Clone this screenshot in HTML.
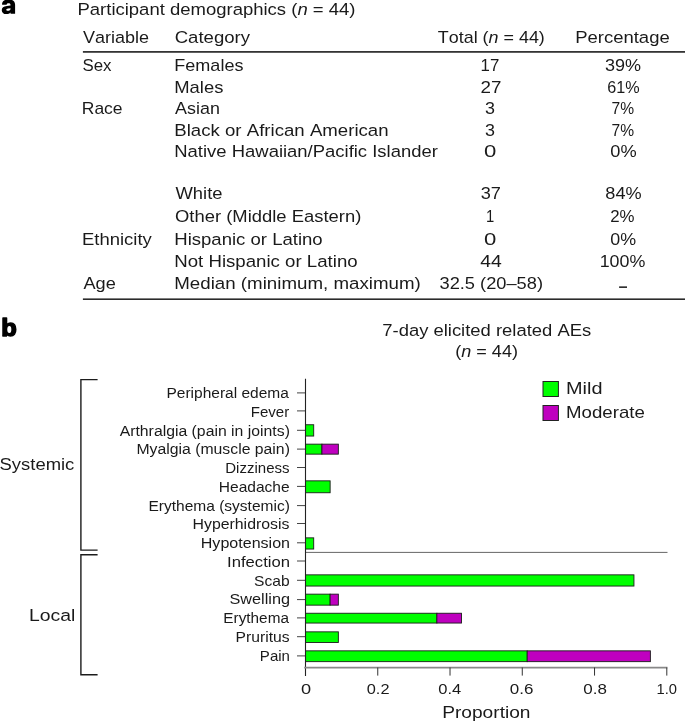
<!DOCTYPE html>
<html><head><meta charset="utf-8"><title>Figure</title>
<style>
html,body{margin:0;padding:0;background:#fff;}
svg{display:block;}
text{font-family:"Liberation Sans",sans-serif;fill:#1a1a1a;font-kerning:none;white-space:pre;}
text.pl{font-weight:bold;fill:#000;stroke:#000;stroke-linejoin:round;}
</style></head>
<body>
<svg width="685" height="722" viewBox="0 0 685 722">
<rect width="685" height="722" fill="#fff"/>
<path fill="#000" fill-rule="evenodd" d="M15.1 13.7V4.8C15.1 1.3 12.6-0.6 8.7-0.6C5.2-0.6 2.7 0.8 2.1 3.4V4.7H6.6C6.8 3.7 7.5 3.3 8.6 3.3C9.9 3.3 10.5 3.9 10.5 4.9V5.6L6.9 5.9C3.4 6.2 1.75 7.6 1.75 10.2C1.75 12.6 3.5 14.1 6.2 14.1C8.2 14.1 9.6 13.5 10.5 12.4L10.6 13.7ZM10.5 8.2L8.1 8.4C6.9 8.5 6.3 8.9 6.3 9.7C6.3 10.4 6.9 10.8 7.8 10.8C9.4 10.8 10.5 10 10.5 8.7Z"/>
<rect x="82.9" y="51.05" width="602.1" height="1.7" fill="#2b2b2b"/>
<rect x="82.9" y="298.4" width="602.1" height="1.6" fill="#2b2b2b"/>
<rect x="619.1" y="286.4" width="7.9" height="1.5" fill="#1a1a1a"/>
<line x1="297" y1="392.90" x2="305.5" y2="392.90" stroke="#444" stroke-width="1"/>
<line x1="297" y1="410.90" x2="305.5" y2="410.90" stroke="#444" stroke-width="1"/>
<line x1="297" y1="430.30" x2="305.5" y2="430.30" stroke="#444" stroke-width="1"/>
<rect x="305.5" y="424.75" width="8.21" height="11.30" fill="#00ff00" stroke="#1a1a1a" stroke-width="0.9"/>
<line x1="297" y1="449.10" x2="305.5" y2="449.10" stroke="#444" stroke-width="1"/>
<rect x="305.5" y="444.15" width="16.42" height="10.00" fill="#00ff00" stroke="#1a1a1a" stroke-width="0.9"/>
<rect x="321.92" y="444.15" width="16.42" height="10.00" fill="#bf00bf" stroke="#1a1a1a" stroke-width="0.9"/>
<line x1="297" y1="467.50" x2="305.5" y2="467.50" stroke="#444" stroke-width="1"/>
<line x1="297" y1="486.40" x2="305.5" y2="486.40" stroke="#444" stroke-width="1"/>
<rect x="305.5" y="480.85" width="24.63" height="11.90" fill="#00ff00" stroke="#1a1a1a" stroke-width="0.9"/>
<line x1="297" y1="505.60" x2="305.5" y2="505.60" stroke="#444" stroke-width="1"/>
<line x1="297" y1="523.50" x2="305.5" y2="523.50" stroke="#444" stroke-width="1"/>
<line x1="297" y1="542.80" x2="305.5" y2="542.80" stroke="#444" stroke-width="1"/>
<rect x="305.5" y="537.85" width="8.21" height="11.20" fill="#00ff00" stroke="#1a1a1a" stroke-width="0.9"/>
<line x1="297" y1="561.00" x2="305.5" y2="561.00" stroke="#444" stroke-width="1"/>
<line x1="297" y1="580.30" x2="305.5" y2="580.30" stroke="#444" stroke-width="1"/>
<rect x="305.5" y="574.85" width="328.45" height="11.20" fill="#00ff00" stroke="#1a1a1a" stroke-width="0.9"/>
<line x1="297" y1="599.60" x2="305.5" y2="599.60" stroke="#444" stroke-width="1"/>
<rect x="305.5" y="594.15" width="24.63" height="11.00" fill="#00ff00" stroke="#1a1a1a" stroke-width="0.9"/>
<rect x="330.13" y="594.15" width="8.21" height="11.00" fill="#bf00bf" stroke="#1a1a1a" stroke-width="0.9"/>
<line x1="297" y1="617.90" x2="305.5" y2="617.90" stroke="#444" stroke-width="1"/>
<rect x="305.5" y="613.25" width="131.38" height="9.80" fill="#00ff00" stroke="#1a1a1a" stroke-width="0.9"/>
<rect x="436.88" y="613.25" width="24.63" height="9.80" fill="#bf00bf" stroke="#1a1a1a" stroke-width="0.9"/>
<line x1="297" y1="636.70" x2="305.5" y2="636.70" stroke="#444" stroke-width="1"/>
<rect x="305.5" y="631.85" width="32.85" height="10.60" fill="#00ff00" stroke="#1a1a1a" stroke-width="0.9"/>
<line x1="297" y1="655.90" x2="305.5" y2="655.90" stroke="#444" stroke-width="1"/>
<rect x="305.5" y="650.85" width="221.71" height="10.80" fill="#00ff00" stroke="#1a1a1a" stroke-width="0.9"/>
<rect x="527.21" y="650.85" width="123.17" height="10.80" fill="#bf00bf" stroke="#1a1a1a" stroke-width="0.9"/>
<line x1="305.5" y1="552.4" x2="667.5" y2="552.4" stroke="#555" stroke-width="0.9"/>
<line x1="305.5" y1="378.8" x2="305.5" y2="676.1" stroke="#222" stroke-width="1.1"/>
<line x1="304.2" y1="667.6" x2="667.4" y2="667.6" stroke="#888" stroke-width="1.6"/>
<line x1="377.76" y1="667.5" x2="377.76" y2="675.6" stroke="#333" stroke-width="1"/>
<line x1="450.02" y1="667.5" x2="450.02" y2="675.6" stroke="#333" stroke-width="1"/>
<line x1="522.28" y1="667.5" x2="522.28" y2="675.6" stroke="#333" stroke-width="1"/>
<line x1="594.54" y1="667.5" x2="594.54" y2="675.6" stroke="#333" stroke-width="1"/>
<line x1="666.80" y1="667.5" x2="666.80" y2="675.6" stroke="#333" stroke-width="1"/>
<rect x="543" y="381.5" width="15.4" height="15" fill="#00ff00" stroke="#222" stroke-width="1"/>
<rect x="543" y="405.5" width="15.4" height="15" fill="#bf00bf" stroke="#222" stroke-width="1"/>
<path d="M97.6 379.6H80.9V550.1H97.6" fill="none" stroke="#1c1c1c" stroke-width="1.4"/>
<path d="M97.6 554.8H80.9V674.8H97.6" fill="none" stroke="#1c1c1c" stroke-width="1.4"/>
<g style="will-change:opacity;isolation:isolate" opacity="0.999">
<text class="pl" transform="translate(1.3,335.5) scale(1.05,1)" font-size="24.2" stroke-width="1.5">b</text>
<text transform="translate(77.48,15) scale(1.0887,1)" font-size="17">Participant demographics (<tspan font-style="italic">n</tspan> = 44)</text>
<text transform="translate(82.92,42.7) scale(1.0594,1)" font-size="17">Variable</text>
<text transform="translate(174.66,42.7) scale(1.0943,1)" font-size="17">Category</text>
<text transform="translate(437.80,42.7) scale(1.0545,1)" font-size="17">Total (<tspan font-style="italic">n</tspan> = 44)</text>
<text transform="translate(575.18,42.7) scale(1.0873,1)" font-size="17">Percentage</text>
<text transform="translate(82.43,70.9) scale(0.9916,1)" font-size="17">Sex</text>
<text transform="translate(174.32,70.9) scale(1.0605,1)" font-size="17">Females</text>
<text transform="translate(480.62,70.9) scale(0.9905,1)" font-size="17">17</text>
<text transform="translate(605.01,70.9) scale(1.0619,1)" font-size="17">39%</text>
<text transform="translate(174.29,92.5) scale(1.0822,1)" font-size="17">Males</text>
<text transform="translate(480.56,92.5) scale(1.1047,1)" font-size="17">27</text>
<text transform="translate(607.18,92.5) scale(0.9522,1)" font-size="17">61%</text>
<text transform="translate(81.77,114.0) scale(1.0283,1)" font-size="17">Race</text>
<text transform="translate(175.07,114.0) scale(1.0535,1)" font-size="17">Asian</text>
<text transform="translate(485.12,114.0) scale(1.0546,1)" font-size="17">3</text>
<text transform="translate(611.50,114.0) scale(0.9180,1)" font-size="17">7%</text>
<text transform="translate(174.27,135.6) scale(1.0965,1)" font-size="17">Black or African American</text>
<text transform="translate(485.12,135.6) scale(1.0546,1)" font-size="17">3</text>
<text transform="translate(611.50,135.6) scale(0.9180,1)" font-size="17">7%</text>
<text transform="translate(174.28,157.2) scale(1.0864,1)" font-size="17">Native Hawaiian/Pacific Islander</text>
<text transform="translate(483.93,157.2) scale(1.3044,1)" font-size="17">0</text>
<text transform="translate(610.29,157.2) scale(1.0729,1)" font-size="17">0%</text>
<text transform="translate(175.52,199.4) scale(1.0815,1)" font-size="17">White</text>
<text transform="translate(480.71,199.4) scale(1.0686,1)" font-size="17">37</text>
<text transform="translate(605.31,199.4) scale(1.0679,1)" font-size="17">84%</text>
<text transform="translate(175.03,221.5) scale(1.0835,1)" font-size="17">Other (Middle Eastern)</text>
<text transform="translate(485.97,221.5) scale(0.8732,1)" font-size="17">1</text>
<text transform="translate(610.25,221.5) scale(0.9909,1)" font-size="17">2%</text>
<text transform="translate(81.98,244.5) scale(1.0872,1)" font-size="17">Ethnicity</text>
<text transform="translate(174.28,244.5) scale(1.0913,1)" font-size="17">Hispanic or Latino</text>
<text transform="translate(483.93,244.5) scale(1.3044,1)" font-size="17">0</text>
<text transform="translate(610.30,244.5) scale(1.0515,1)" font-size="17">0%</text>
<text transform="translate(174.27,266.8) scale(1.0972,1)" font-size="17">Not Hispanic or Latino</text>
<text transform="translate(480.16,266.8) scale(1.1376,1)" font-size="17">44</text>
<text transform="translate(599.64,266.8) scale(1.0510,1)" font-size="17">100%</text>
<text transform="translate(83.46,288.9) scale(1.0693,1)" font-size="17">Age</text>
<text transform="translate(174.26,288.9) scale(1.1020,1)" font-size="17">Median (minimum, maximum)</text>
<text transform="translate(439.50,288.9) scale(1.0749,1)" font-size="17">32.5 (20–58)</text>
<text transform="translate(382.25,336.3) scale(1.0853,1)" font-size="17">7-day elicited related AEs</text>
<text transform="translate(455.28,357.3) scale(1.0605,1)" font-size="17">(<tspan font-style="italic">n</tspan> = 44)</text>
<text transform="translate(166.43,398.0) scale(1.0492,1)" font-size="14.8">Peripheral edema</text>
<text transform="translate(250.76,416.76) scale(1.0173,1)" font-size="14.8">Fever</text>
<text transform="translate(119.67,435.52) scale(1.0672,1)" font-size="14.8">Arthralgia (pain in joints)</text>
<text transform="translate(136.40,454.28) scale(1.0669,1)" font-size="14.8">Myalgia (muscle pain)</text>
<text transform="translate(225.27,473.04) scale(1.0150,1)" font-size="14.8">Dizziness</text>
<text transform="translate(218.82,491.8) scale(1.0503,1)" font-size="14.8">Headache</text>
<text transform="translate(148.43,510.56) scale(1.0495,1)" font-size="14.8">Erythema (systemic)</text>
<text transform="translate(192.50,529.32) scale(1.0729,1)" font-size="14.8">Hyperhidrosis</text>
<text transform="translate(200.78,548.08) scale(1.0849,1)" font-size="14.8">Hypotension</text>
<text transform="translate(227.06,566.84) scale(1.1264,1)" font-size="14.8">Infection</text>
<text transform="translate(254.09,585.6) scale(1.0543,1)" font-size="14.8">Scab</text>
<text transform="translate(229.46,604.36) scale(1.0993,1)" font-size="14.8">Swelling</text>
<text transform="translate(223.34,623.12) scale(1.0367,1)" font-size="14.8">Erythema</text>
<text transform="translate(235.62,641.88) scale(1.0580,1)" font-size="14.8">Pruritus</text>
<text transform="translate(259.87,660.64) scale(1.0165,1)" font-size="14.8">Pain</text>
<text transform="translate(300.99,694.1) scale(1.2297,1)" font-size="14.8">0</text>
<text transform="translate(366.76,694.1) scale(1.1064,1)" font-size="14.8">0.2</text>
<text transform="translate(438.25,694.1) scale(1.1195,1)" font-size="14.8">0.4</text>
<text transform="translate(509.84,694.1) scale(1.1476,1)" font-size="14.8">0.6</text>
<text transform="translate(583.24,694.1) scale(1.1471,1)" font-size="14.8">0.8</text>
<text transform="translate(656.48,694.1) scale(0.9964,1)" font-size="14.8">1.0</text>
<text transform="translate(442.13,717.7) scale(1.1273,1)" font-size="17">Proportion</text>
<text transform="translate(565.97,393.7) scale(1.1716,1)" font-size="17">Mild</text>
<text transform="translate(566.07,417.7) scale(1.0966,1)" font-size="17">Moderate</text>
<text transform="translate(-0.44,470.4) scale(1.0851,1)" font-size="17">Systemic</text>
<text transform="translate(29.01,620.7) scale(1.1415,1)" font-size="17">Local</text>
</g>
</svg>
</body></html>
